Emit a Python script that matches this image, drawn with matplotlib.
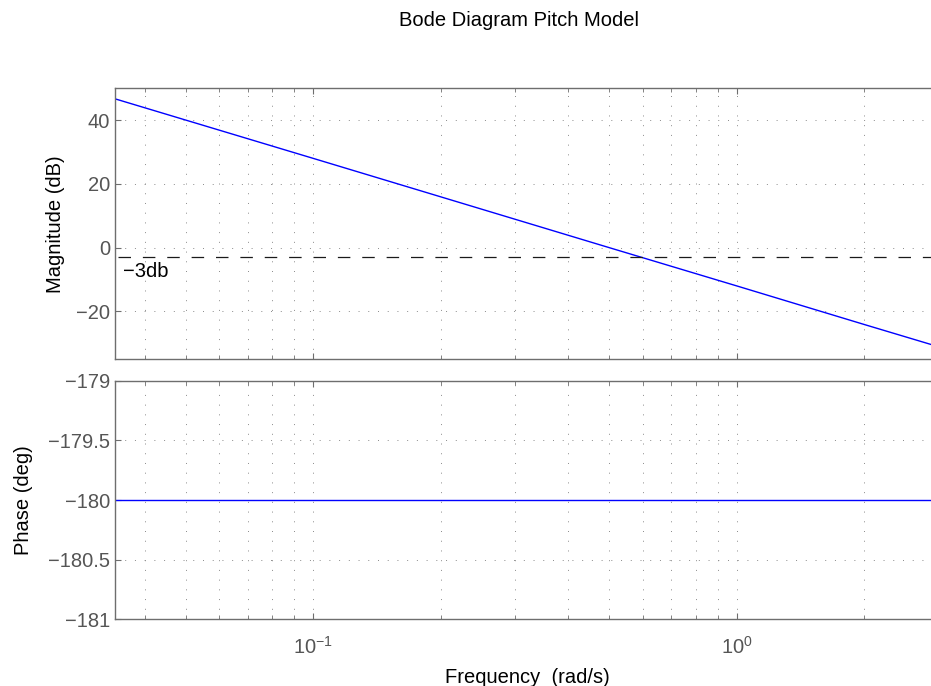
import matplotlib
matplotlib.use("Agg")
import matplotlib.pyplot as plt
import matplotlib.ticker as ticker
import numpy as np

plt.rcParams['font.family'] = ['Liberation Sans', 'DejaVu Sans']

# frequency response points of the pitch model (rad/s, dB, deg)
freq = [0.034, 0.1, 0.5, 1.0, 2.0, 3.0]
mag_db = [46.7, 28.0, 0.0, -12.0, -24.1, -31.1]
phase_deg = [-180, -180, -180, -180, -180, -180]

ref_db = -3
ref_label = '\u22123db'

mag_ticks = [-20, 0, 20, 40]
phase_ticks = [-181, -180.5, -180, -179.5, -179]

FS = 14.5
W, H = 931, 686
fig = plt.figure(figsize=(W / 100, H / 100), dpi=100)

def px(left, top, right, bottom):
    return [left / W, 1 - bottom / H, (right - left) / W, (bottom - top) / H]

ax1 = fig.add_axes(px(115, 88.3, 939, 359.3))
ax2 = fig.add_axes(px(115, 380.7, 939, 619.3))

grid_kw = dict(color='#8a8a8a', linestyle=(0, (1, 9)), linewidth=0.7)
tick_gray = '#555555'

for ax in (ax1, ax2):
    ax.set_xscale('log')
    ax.set_xlim(0.034, 3.0)
    ax.xaxis.set_minor_locator(ticker.LogLocator(base=10, subs=np.arange(2, 10)))
    ax.xaxis.set_minor_formatter(ticker.NullFormatter())
    ax.grid(True, which='major', axis='both', **grid_kw)
    ax.grid(True, which='minor', axis='x', **grid_kw)
    ax.tick_params(which='both', direction='in', top=True, right=False,
                   labelsize=FS, colors='#6e6e6e', labelcolor=tick_gray)
    ax.tick_params(which='major', length=4, width=0.8)
    ax.tick_params(which='minor', length=3, width=0.6)
    for side in ('left', 'top', 'bottom'):
        ax.spines[side].set_color('#6e6e6e')
        ax.spines[side].set_linewidth(1.0)
    ax.spines['right'].set_visible(False)

# magnitude
ax1.plot(freq, mag_db, color='#0000ff', linewidth=1.0)
ax1.axhline(ref_db, xmin=0.004, color='#1a1a1a', linewidth=0.9,
            linestyle=(0, (10, 9.5)))
ax1.text(0.0356, ref_db - 1.6, ref_label, fontsize=FS, va='top', ha='left')
ax1.set_ylim(-35, 50)
ax1.set_yticks(mag_ticks)
ax1.tick_params(axis='x', labelbottom=False)
ax1.set_ylabel('Magnitude (dB)', fontsize=FS, labelpad=8)

# phase
ax2.plot(freq, phase_deg, color='#0000ff', linewidth=1.0)
ax2.set_ylim(-181, -179)
ax2.set_yticks(phase_ticks)
ax2.yaxis.set_major_formatter(ticker.FuncFormatter(
    lambda v, pos: ('%g' % v).replace('-', '\u2212')))
ax2.set_xticks([0.1, 1.0])
ax2.tick_params(axis='x', which='major', pad=12)
ax2.set_ylabel('Phase (deg)', fontsize=FS, labelpad=11)
ax2.set_xlabel('Frequency  (rad/s)', fontsize=FS, labelpad=7)

fig.text(519 / W, 1 - 20 / H, 'Bode Diagram Pitch Model', fontsize=FS,
         ha='center', va='center')

fig.savefig('out.png', dpi=100)
